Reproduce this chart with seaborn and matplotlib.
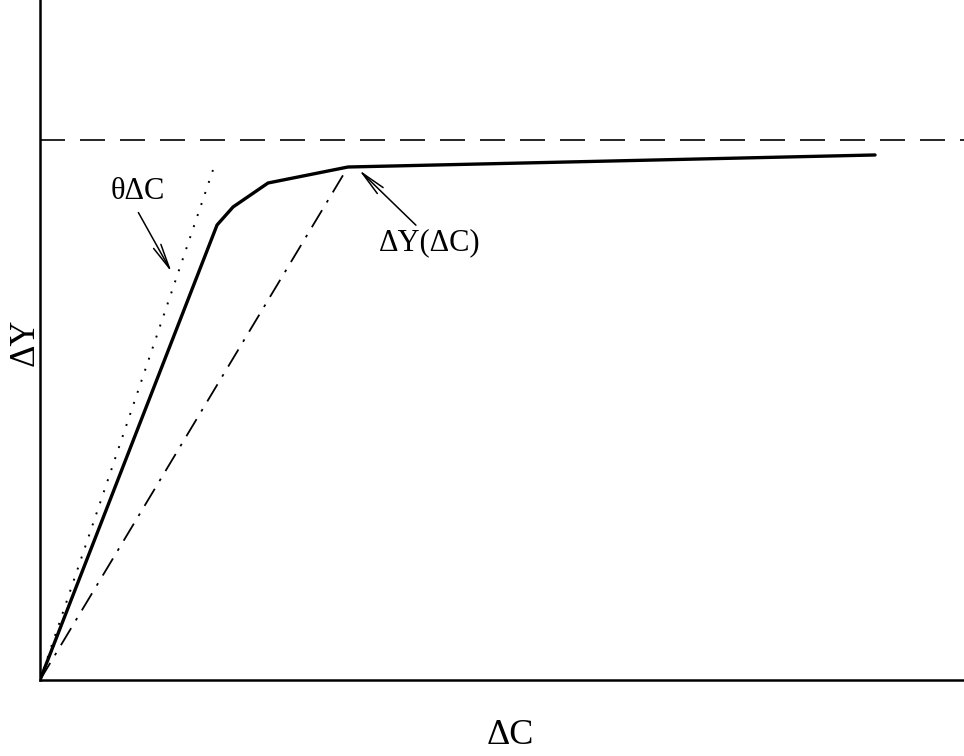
import matplotlib
matplotlib.use("Agg")
import matplotlib.pyplot as plt
import seaborn as sns

# Data (arbitrary units)
curve_x = [0.0, 1.916, 2.089, 2.468, 3.333, 9.037]
curve_y = [0.0, 6.691, 6.956, 7.309, 7.544, 7.721]
tangent_x = [0.0, 1.872]
tangent_y = [0.0, 7.50]
secant_x = [0.0, 3.333]
secant_y = [0.0, 7.544]
asym_x = [0.0, 10.0]
asym_y = [7.941, 7.941]

sns.set_theme(style="white")
plt.rcParams['font.family'] = ['Liberation Serif', 'DejaVu Serif']
plt.rcParams['text.color'] = 'black'

fig = plt.figure(figsize=(9.64, 7.56), dpi=100)
ax = fig.add_axes([40/964, 76/756, 924/964, 680/756])

sns.lineplot(x=curve_x, y=curve_y, ax=ax, color="black", lw=2.4, sort=False)
sns.lineplot(x=tangent_x, y=tangent_y, ax=ax, color="black", lw=1.4, sort=False,
             linestyle=(0, (1, 5)))
sns.lineplot(x=secant_x, y=secant_y, ax=ax, color="black", lw=1.3, sort=False,
             linestyle=(0, (11, 5, 1.5, 5)))
sns.lineplot(x=asym_x, y=asym_y, ax=ax, color="black", lw=1.2, sort=False,
             linestyle=(0, (15, 9)))

ax.set_xlim(0, 10)
ax.set_ylim(0, 10)
ax.set_xticks([])
ax.set_yticks([])
for s in ["top", "right"]:
    ax.spines[s].set_visible(False)
for s in ["left", "bottom"]:
    ax.spines[s].set_color("black")
    ax.spines[s].set_linewidth(1.8)

ax.text(1.06, 7.18, "θΔC", fontsize=22, ha="center", va="center", color="black")
ax.annotate("", xy=(1.44, 5.96), xytext=(1.05, 6.91),
            arrowprops=dict(arrowstyle="->,head_length=1.5,head_width=0.25",
                            color="black", lw=1.1))
ax.text(4.22, 6.43, "ΔY(ΔC)", fontsize=22, ha="center", va="center", color="black")
ax.annotate("", xy=(3.43, 7.53), xytext=(4.09, 6.66),
            arrowprops=dict(arrowstyle="->,head_length=1.5,head_width=0.25",
                            color="black", lw=1.1))

fig.text(510/964, 1 - 735/756, "ΔC", fontsize=26, ha="center", va="center",
         color="black")
fig.text(25/964, 1 - 342/756, "ΔY", fontsize=25, ha="center", va="center",
         rotation=90, color="black")

fig.savefig("out.png", dpi=100)
